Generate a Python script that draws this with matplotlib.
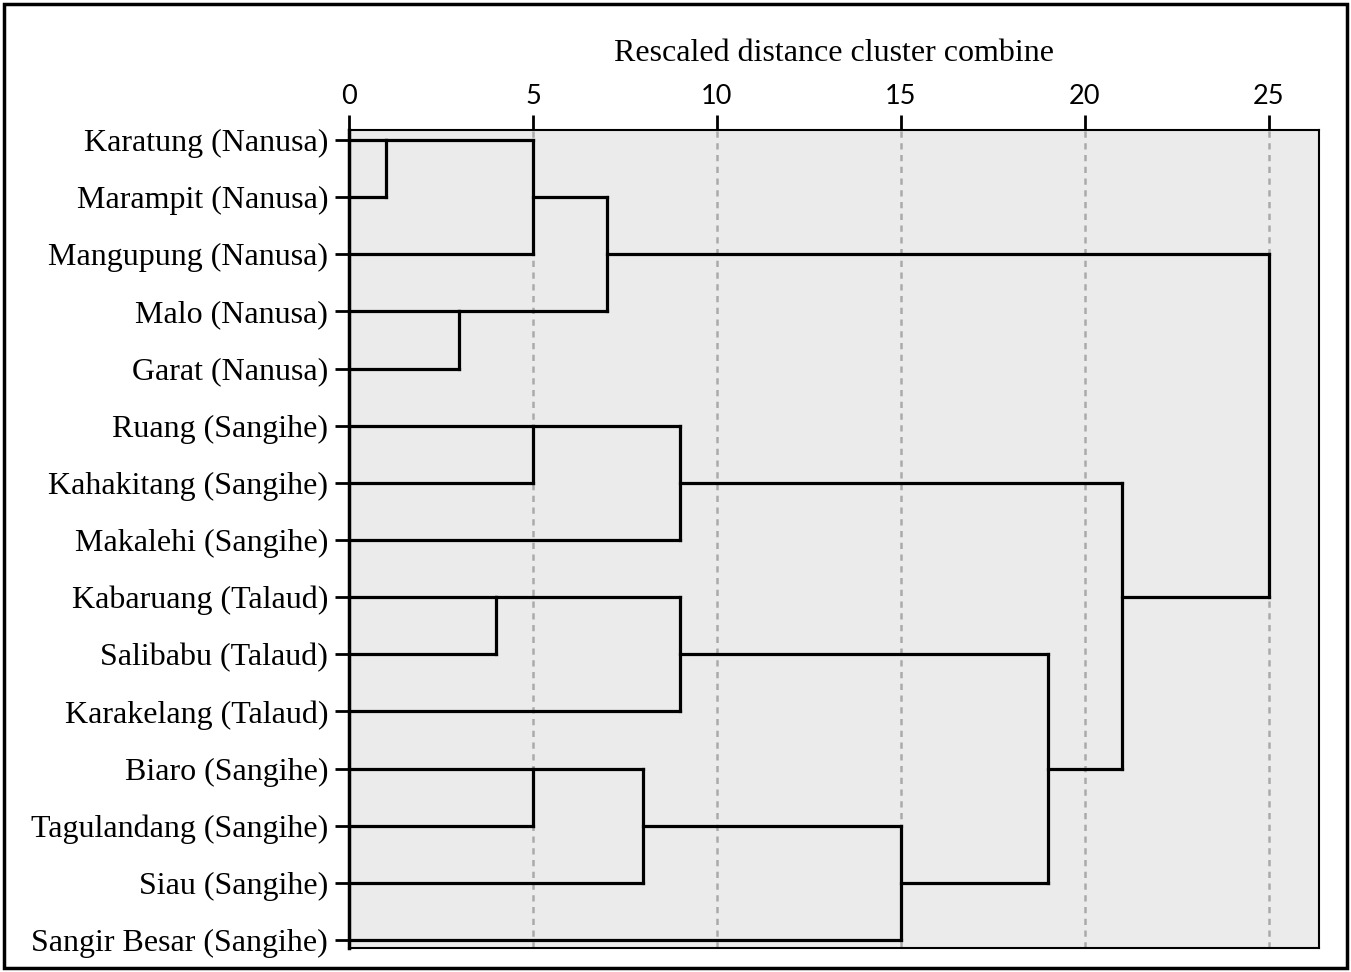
import matplotlib
matplotlib.use("Agg")
import matplotlib.pyplot as plt
from matplotlib.patches import Rectangle

# leaves, top to bottom
labels = ["Karatung (Nanusa)", "Marampit (Nanusa)", "Mangupung (Nanusa)",
          "Malo (Nanusa)", "Garat (Nanusa)", "Ruang (Sangihe)",
          "Kahakitang (Sangihe)", "Makalehi (Sangihe)", "Kabaruang (Talaud)",
          "Salibabu (Talaud)", "Karakelang (Talaud)", "Biaro (Sangihe)",
          "Tagulandang (Sangihe)", "Siau (Sangihe)", "Sangir Besar (Sangihe)"]

# merges: ids < 15 are leaves, 15+k is the cluster made by merge k
merge_a = [0, 15, 3, 16, 5, 19, 8, 21, 11, 23, 24, 22, 20, 18]
merge_b = [1, 2, 4, 17, 6, 7, 9, 10, 12, 13, 14, 25, 26, 27]
merge_d = [1, 5, 3, 7, 5, 9, 4, 9, 5, 8, 15, 19, 21, 25]

n = len(labels)

fig = plt.figure(figsize=(13.51, 9.72), dpi=100)
ax = fig.add_axes([349 / 1351, 1 - 948 / 972, 970 / 1351, 818 / 972])
ax.set_facecolor("#ebebeb")

ypos = {i: i for i in range(n)}
dist = {i: 0 for i in range(n)}
lw = 2.3
for k in range(len(merge_d)):
    a, b, d = merge_a[k], merge_b[k], merge_d[k]
    ya, yb = ypos[a], ypos[b]
    for c in (a, b):
        ax.plot([dist[c], d], [ypos[c], ypos[c]], color="black", lw=lw,
                solid_capstyle="projecting", zorder=3)
    ax.plot([d, d], [ya, yb], color="black", lw=lw,
            solid_capstyle="projecting", zorder=3)
    node = n + k
    # SPSS puts the joined cluster on the row just above the midpoint
    ypos[node] = (ya + yb) // 2
    dist[node] = d

for g in [5, 10, 15, 20, 25]:
    ax.axvline(g, color="#aaaaaa", lw=1.8, ls=(0, (2.5, 2.2)), zorder=1)

ax.set_xlim(0, 26.36)
ax.set_ylim(n - 1 + 0.14, -0.175)

ax.xaxis.tick_top()
ax.xaxis.set_label_position("top")
ax.set_xticks([0, 5, 10, 15, 20, 25])
ax.set_xticklabels(["0", "5", "10", "15", "20", "25"], family="Lato", fontsize=19.5)
ax.set_xlabel("Rescaled distance cluster combine", family="Liberation Serif",
              fontsize=23, labelpad=17)
ax.tick_params(axis="x", direction="out", length=11, width=2, pad=4)

ax.set_yticks(range(n))
ax.set_yticklabels(labels, family="Liberation Serif", fontsize=23)
ax.tick_params(axis="y", direction="out", length=10, width=2, pad=5)

for side in ["top", "right", "bottom"]:
    ax.spines[side].set_linewidth(1.5)
ax.spines["left"].set_linewidth(2.5)

fig.patches.append(Rectangle((4 / 1351, 4 / 972), 1343 / 1351, 964 / 972,
                             transform=fig.transFigure, fill=False,
                             edgecolor="black", lw=2.5))

fig.savefig("out.png", dpi=100)
